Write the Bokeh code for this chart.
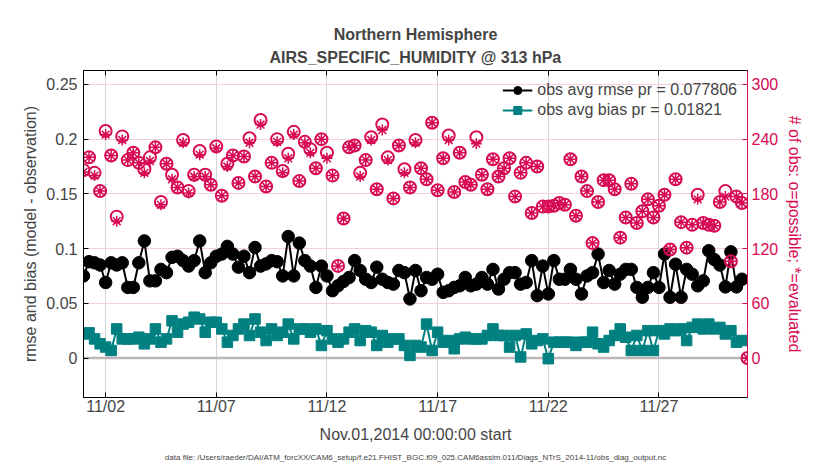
import pandas as pd
from bokeh.plotting import figure
from bokeh.models import (Range1d, LinearAxis, DatetimeAxis, FixedTicker, DatetimeTickFormatter,
                          NumeralTickFormatter, CustomJSTickFormatter, Span, Legend, LegendItem, Title)
from bokeh.embed import file_html
from bokeh.resources import INLINE

FONT = "Liberation Sans"
PINK = "#D70A53"
TEAL = "#008080"

# 6-hourly bins, Nov 01 2014 00Z .. Dec 01 2014 00Z
times = pd.date_range("2014-11-01 00:00", periods=121, freq="6h")

rmse = [0.075, 0.088, 0.087, 0.085, 0.069, 0.087, 0.085, 0.087, 0.0645, 0.0645,
        0.087, 0.107, 0.0705, 0.0705, 0.081, 0.078, 0.092, 0.093, 0.089, 0.084,
        0.089, 0.107, 0.078, 0.087, 0.093, 0.095, 0.102, 0.095, 0.083, 0.093,
        0.078, 0.101, 0.084, 0.086, 0.089, 0.088, 0.075, 0.111, 0.075, 0.105,
        0.089, 0.084, 0.0645, 0.084, 0.075, 0.0615, 0.066, 0.070, 0.0736, 0.089,
        0.080, 0.072, 0.069, 0.083, 0.072, 0.069, 0.0675, 0.080, 0.078, 0.054,
        0.080, 0.0615, 0.0736, 0.072, 0.0766, 0.060, 0.0615, 0.0645, 0.066, 0.0736,
        0.066, 0.0675, 0.0736, 0.0675, 0.081, 0.063, 0.072, 0.078, 0.078, 0.0675,
        0.069, 0.089, 0.057, 0.084, 0.0585, 0.089, 0.072, 0.072, 0.081, 0.072,
        0.0585, 0.075, 0.078, 0.095, 0.069, 0.080, 0.0675, 0.0766, 0.081, 0.081,
        0.0645, 0.0555, 0.0645, 0.078, 0.0645, 0.095, 0.0555, 0.0857, 0.0555, 0.081,
        0.0766, 0.066, 0.0705, 0.098, 0.090, 0.085, 0.065, 0.097, 0.065, 0.072,
        float("nan")]

bias = [0.022, 0.023, 0.0175, 0.013, 0.010, 0.0069, 0.0266, 0.0175, 0.0175, 0.0175,
        0.019, 0.013, 0.0175, 0.0266, 0.0145, 0.0175, 0.034, 0.0236, 0.031, 0.0327,
        0.0373, 0.0357, 0.0236, 0.0327, 0.0327, 0.0266, 0.0145, 0.0206, 0.0266, 0.031,
        0.0206, 0.0357, 0.0236, 0.016, 0.0266, 0.0206, 0.0236, 0.031, 0.0175, 0.0266,
        0.0266, 0.0236, 0.0266, 0.0115, 0.025, 0.0175, 0.0145, 0.0175, 0.0236, 0.0266,
        0.016, 0.025, 0.0236, 0.0115, 0.0206, 0.0145, 0.0175, 0.0175, 0.0115, 0.0024,
        0.0115, 0.010, 0.031, 0.0069, 0.0236, 0.0145, 0.016, 0.0085, 0.0175, 0.019,
        0.0175, 0.0175, 0.0175, 0.0206, 0.0266, 0.0206, 0.0206, 0.010, 0.0206, 0.001,
        0.022, 0.013, 0.016, 0.0175, -0.0006, 0.0145, 0.0145, 0.0145, 0.0145, 0.0115,
        0.0145, 0.0145, 0.0236, 0.013, 0.010, 0.016, 0.0206, 0.0266, 0.019, 0.0069,
        0.0206, 0.0069, 0.025, 0.0069, 0.025, 0.022, 0.0266, 0.025, 0.0266, 0.016,
        0.028, 0.031, 0.0266, 0.031, 0.0266, 0.028, 0.022, 0.025, 0.0145, 0.016,
        float("nan")]

n_possible = [206, 220, 203, 183, 249, 222, 155, 243, 217, 225,
              214, 207, 220, 231, 171, 213, 201, 187, 239, 183,
              201, 227, 201, 190, 232, 178, 213, 222, 192, 221,
              241, 199, 261, 188, 214, 240, 205, 224, 248, 194,
              237, 229, 208, 240, 225, 200, 101, 153, 231, 233,
              203, 217, 242, 185, 256, 220, 175, 233, 207, 187,
              239, 208, 196, 258, 184, 219, 244, 182, 225, 193,
              190, 242, 201, 185, 218, 199, 208, 219, 177, 203,
              214, 159, 210, 166, 166, 167, 170, 168, 218, 156,
              199, 183, 126, 171, 195, 195, 185, 132, 154, 191,
              148, 161, 174, 154, 167, 179, 119, 196, 149, 121,
              146, 179, 148, 146, 145, 171, 183, 106, 177, 170,
              0]

n_evaluated = [204, 220, 200, 183, 245, 222, 150, 239, 217, 225,
               214, 203, 216, 231, 168, 213, 196, 187, 236, 181,
               199, 223, 199, 190, 230, 178, 210, 222, 192, 221,
               236, 199, 256, 188, 214, 237, 203, 219, 245, 194,
               236, 225, 208, 240, 219, 200, 101, 153, 231, 233,
               199, 217, 239, 185, 250, 217, 175, 233, 203, 187,
               236, 208, 196, 258, 184, 219, 239, 182, 225, 193,
               190, 235, 201, 185, 218, 199, 208, 219, 177, 203,
               214, 159, 210, 166, 166, 167, 170, 168, 218, 156,
               199, 183, 126, 171, 195, 195, 185, 132, 154, 191,
               148, 161, 174, 154, 167, 179, 119, 196, 149, 121,
               146, 174, 148, 146, 145, 171, 177, 106, 177, 170,
               0]

date_ticks = ["2014-11-02", "2014-11-07", "2014-11-12", "2014-11-17", "2014-11-22", "2014-11-27"]
left_ticks = [0, 0.05, 0.1, 0.15, 0.2, 0.25]
count_ticks = [0, 60, 120, 180, 240, 300]

tick_ms = [pd.Timestamp(d).value // 10**6 for d in date_ticks]

p = figure(width=822, height=466, output_backend="svg", toolbar_location=None,
           x_axis_type="datetime",
           x_range=Range1d(pd.Timestamp("2014-11-01"), pd.Timestamp("2014-12-01")),
           y_range=Range1d(-0.03606, 0.2627),
           min_border_left=83, min_border_right=75, min_border_top=70, min_border_bottom=67,
           background_fill_color="white", border_fill_color="white")
p.extra_y_ranges = {"count": Range1d(-0.03606 * 1200, 0.2627 * 1200)}

p.outline_line_color = "black"
p.outline_line_width = 1

# grids
p.xgrid.ticker = FixedTicker(ticks=tick_ms)
p.xgrid.grid_line_color = "#d6d6d6"
p.ygrid.ticker = FixedTicker(ticks=left_ticks)
p.ygrid.grid_line_color = "#f5cfdc"

# bottom axis
xa = p.xaxis[0]
xa.ticker = FixedTicker(ticks=tick_ms)
xa.formatter = DatetimeTickFormatter(days="%m/%d", months="%m/%d", hours="%m/%d")
xa.axis_label = "Nov.01,2014 00:00:00 start"
xa.major_tick_in = 5
xa.major_tick_out = 0
xa.minor_tick_line_color = None
xa.major_label_text_font = FONT
xa.major_label_text_font_size = "16px"
xa.major_label_standoff = 0
xa.axis_label_text_font = FONT
xa.axis_label_text_font_size = "16px"
xa.axis_label_text_font_style = "normal"
xa.axis_label_standoff = 8

# left axis
ya = p.yaxis[0]
ya.ticker = FixedTicker(ticks=left_ticks)
ya.formatter = NumeralTickFormatter(format="0.[00]")
ya.axis_label = "rmse and bias (model - observation)"
ya.major_tick_in = 5
ya.major_tick_out = 0
ya.minor_tick_line_color = None
ya.major_label_text_font = FONT
ya.major_label_text_font_size = "16px"
ya.major_label_standoff = 6
ya.axis_label_text_font = FONT
ya.axis_label_text_font_size = "16px"
ya.axis_label_text_font_style = "normal"
ya.axis_label_standoff = 4

# right axis (counts)
ra = LinearAxis(y_range_name="count", ticker=FixedTicker(ticks=count_ticks),
                axis_label="# of obs: o=possible; *=evaluated")
ra.major_tick_in = 5
ra.major_tick_out = 0
ra.minor_tick_line_color = None
ra.axis_line_color = PINK
ra.major_tick_line_color = PINK
ra.major_label_text_color = PINK
ra.major_label_text_font = FONT
ra.major_label_text_font_size = "16px"
ra.major_label_standoff = 4
ra.axis_label_text_color = PINK
ra.axis_label_text_font = FONT
ra.axis_label_text_font_size = "16px"
ra.axis_label_text_font_style = "normal"
ra.axis_label_standoff = 5
p.add_layout(ra, "right")

# top axis (ticks only)
ta = DatetimeAxis(ticker=FixedTicker(ticks=tick_ms),
                  formatter=CustomJSTickFormatter(code="return ''"))
ta.major_tick_in = 5
ta.major_tick_out = 0
ta.minor_tick_line_color = None
ta.major_label_standoff = 0
p.add_layout(ta, "above")

# titles
p.title.text = "Northern Hemisphere"
p.title.align = "center"
p.title.text_font = FONT
p.title.text_font_size = "16px"
p.title.text_font_style = "bold"
p.title.standoff = -2
t2 = Title(text="AIRS_SPECIFIC_HUMIDITY @ 313 hPa", align="center", text_font=FONT,
           text_font_size="16px", text_font_style="bold")
p.add_layout(t2, "above")

fn = Title(text="data file: /Users/raeder/DAI/ATM_forcXX/CAM6_setup/f.e21.FHIST_BGC.f09_025.CAM6assim.011/Diags_NTrS_2014-11/obs_diag_output.nc",
           align="center", text_font=FONT, text_font_size="8px", text_font_style="normal")
p.add_layout(fn, "below")

# zero line
zl = Span(location=0, dimension="width", line_color="#bdb5b8", line_width=2.5, level="underlay")
p.add_layout(zl)

# data
r_line = p.line(times, rmse, line_color="black", line_width=2)
r_pts = p.scatter(times, rmse, marker="circle", size=12.5, fill_color="black", line_color="black")
b_line = p.line(times, bias, line_color=TEAL, line_width=2)
b_pts = p.scatter(times, bias, marker="square", size=10.5, fill_color=TEAL, line_color=TEAL)
p.scatter(times, n_possible, marker="circle", size=12, fill_color=None, line_color=PINK,
          line_width=2, y_range_name="count")
p.scatter(times, n_evaluated, marker="asterisk", size=11, line_color=PINK,
          line_width=1.5, y_range_name="count")

legend = Legend(items=[LegendItem(label="obs avg rmse pr = 0.077806", renderers=[r_line, r_pts]),
                       LegendItem(label="obs avg bias pr = 0.01821", renderers=[b_line, b_pts])],
                location="top_right", label_text_font=FONT, label_text_font_size="16px",
                glyph_width=30, glyph_height=20, label_height=20, label_standoff=5, spacing=0,
                padding=6, margin=4, border_line_alpha=0, background_fill_alpha=0)
p.add_layout(legend)

open("out.html", "w").write(file_html(p, INLINE))
